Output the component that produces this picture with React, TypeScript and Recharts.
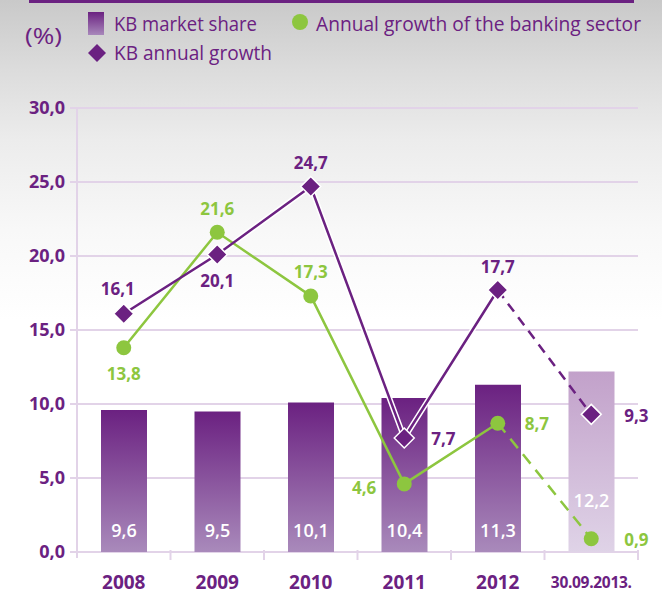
import React from 'react';
import { ComposedChart, Bar, Line, XAxis, YAxis, CartesianGrid, Cell, LabelList } from 'recharts';

// ---- data ----
const years = ['2008', '2009', '2010', '2011', '2012', '30.09.2013.'];
const kbMarketShare = [9.6, 9.5, 10.1, 10.4, 11.3, 12.2];
const kbAnnualGrowth = [16.1, 20.1, 24.7, 7.7, 17.7, 9.3];
const sectorGrowth = [13.8, 21.6, 17.3, 4.6, 8.7, 0.9];
const yTicks = [0, 5, 10, 15, 20, 25, 30];
const projectedIndex = 5; // last period is partial (dashed / lighter)

// label placements (style)
const kbLabelPlace = ['topleft', 'bottom', 'top', 'right', 'top', 'farright'];
const sectorLabelPlace = ['bottom', 'top', 'top', 'left', 'right', 'farright'];

const PURPLE = '#6b2181';
const GREEN = '#8dc63f';
const GRID = '#e2d3e8';
const FONT = '"Open Sans", "DejaVu Sans", sans-serif';

const W = 662;
const H = 594;
const M = { top: 108, right: 24, bottom: 0, left: 0 };
const Y_AXIS_W = 77;
const X_AXIS_H = 42;
const PLOT_BOTTOM = H - M.bottom - X_AXIS_H;
const HALF_BAND = (W - M.left - M.right - Y_AXIS_W) / years.length / 2;

const fmt = (v: number) => v.toFixed(1).replace('.', ',');

const data = years.map((y, i) => ({
  year: y,
  share: kbMarketShare[i],
  kbSolid: i < projectedIndex ? kbAnnualGrowth[i] : null,
  kbDash: i >= projectedIndex - 1 ? kbAnnualGrowth[i] : null,
  secSolid: i < projectedIndex ? sectorGrowth[i] : null,
  secDash: i >= projectedIndex - 1 ? sectorGrowth[i] : null,
}));

const placeOffset = (p: string) => {
  switch (p) {
    case 'top': return { dx: 0, dy: -24, anchor: 'middle' };
    case 'bottom': return { dx: 0, dy: 26, anchor: 'middle' };
    case 'topleft': return { dx: -6, dy: -25, anchor: 'middle' };
    case 'left': return { dx: -28, dy: 4, anchor: 'end' };
    case 'right': return { dx: 27, dy: 0, anchor: 'start' };
    case 'farright': return { dx: 33, dy: 1, anchor: 'start' };
    default: return { dx: 0, dy: -24, anchor: 'middle' };
  }
};

const makePointLabel = (values: number[], places: string[], color: string, onlyIdx: (i: number) => boolean) =>
  (props: any) => {
    const { x, y, index } = props;
    if (x == null || y == null || !onlyIdx(index)) return null;
    const o = placeOffset(places[index]);
    return (
      <text x={x + o.dx} y={y + o.dy} textAnchor={o.anchor as any} dominantBaseline="central"
        fill={color} fontFamily={FONT} fontWeight={700} fontSize={17}>
        {fmt(values[index])}
      </text>
    );
  };

const Diamond = ({ cx, cy, r = 10 }: any) => (
  <path d={`M${cx},${cy - r} L${cx + r},${cy} L${cx},${cy + r} L${cx - r},${cy} Z`}
    fill={PURPLE} stroke="#fff" strokeWidth={1.5} />
);

const makeDot = (shape: 'diamond' | 'circle', onlyIdx: (i: number) => boolean) => (props: any) => {
  const { cx, cy, index } = props;
  if (cx == null || cy == null || !onlyIdx(index)) return <g key={`d${index}`} />;
  if (shape === 'diamond') return <Diamond key={`d${index}`} cx={cx} cy={cy} />;
  return <circle key={`d${index}`} cx={cx} cy={cy} r={7.5} fill={GREEN} />;
};

const XTick = (props: any) => {
  const { x, payload, index } = props;
  const last = payload.value === years[projectedIndex];
  const base = PLOT_BOTTOM;
  return (
    <g>
      {index === 0 && (
        <line x1={x - HALF_BAND} x2={x - HALF_BAND} y1={base - 2} y2={base + 6} stroke={GRID} strokeWidth={2} />
      )}
      <line x1={x + HALF_BAND} x2={x + HALF_BAND} y1={base - 2} y2={base + 8} stroke={GRID} strokeWidth={2} />
      <text x={x} y={last ? base + 36 : base + 37} textAnchor="middle" fill={PURPLE}
        fontFamily={FONT} fontWeight={700} fontSize={last ? 15.5 : 19} letterSpacing={last ? -0.3 : 0}>
        {payload.value}
      </text>
    </g>
  );
};

const BarLabel = (props: any) => {
  const { x, y, width, height, index } = props;
  const bottom = y + height;
  const cy = index === projectedIndex ? bottom - 52 : bottom - 22;
  return (
    <text x={x + width / 2} y={cy} textAnchor="middle" dominantBaseline="central" fill="#fff"
      fontFamily={FONT} fontWeight={600} fontSize={18}>
      {fmt(kbMarketShare[index])}
    </text>
  );
};

const Legend = () => (
  <svg width={W} height={80} style={{ position: 'absolute', left: 0, top: 0, pointerEvents: 'none' }}>
    <defs>
      <linearGradient id="legBar" x1="0" y1="0" x2="0" y2="1">
        <stop offset="0%" stopColor={PURPLE} />
        <stop offset="100%" stopColor="#a888bb" />
      </linearGradient>
    </defs>
    <text x={25} y={44} fill={PURPLE} fontFamily={FONT} fontSize={22} textLength={37} lengthAdjust="spacingAndGlyphs">(%)</text>
    <rect x={88} y={12} width={16} height={23} fill="url(#legBar)" />
    <text x={114} y={31} fill={PURPLE} fontFamily={FONT} fontSize={20} textLength={143} lengthAdjust="spacingAndGlyphs">KB market share</text>
    <circle cx={300} cy={22} r={8} fill={GREEN} />
    <text x={316} y={31} fill={PURPLE} fontFamily={FONT} fontSize={20} textLength={325} lengthAdjust="spacingAndGlyphs">Annual growth of the banking sector</text>
    <path d="M97,44 L106,53 L97,62 L88,53 Z" fill={PURPLE} />
    <text x={114} y={60} fill={PURPLE} fontFamily={FONT} fontSize={20} textLength={158} lengthAdjust="spacingAndGlyphs">KB annual growth</text>
  </svg>
);

export default function App() {
  const notLast = (i: number) => i < projectedIndex;
  const onlyLast = (i: number) => i === projectedIndex;
  return (
    <div style={{
      position: 'absolute', left: 0, top: 0, width: W, height: H, overflow: 'hidden',
      background: 'linear-gradient(to bottom, #c9c9c9 0px, #dcdcdc 70px, #ececec 140px, #f8f8f8 230px, #ffffff 320px)',
    }}>
      <div style={{ position: 'absolute', left: 29, top: 0, width: 605, height: 3, background: PURPLE }} />
      <ComposedChart width={W} height={H} data={data} margin={M}>
        <defs>
          <linearGradient id="barMain" x1="0" y1="0" x2="0" y2="1">
            <stop offset="0%" stopColor={PURPLE} />
            <stop offset="100%" stopColor="#a98abb" />
          </linearGradient>
          <linearGradient id="barLight" x1="0" y1="0" x2="0" y2="1">
            <stop offset="0%" stopColor="#c2a1ca" />
            <stop offset="100%" stopColor="#dfd3e7" />
          </linearGradient>
        </defs>
        <CartesianGrid horizontal vertical={false} stroke={GRID} strokeWidth={2} />
        <XAxis dataKey="year" height={X_AXIS_H} axisLine={false} tickLine={false} tick={<XTick />} interval={0} />
        <YAxis domain={[0, 30]} ticks={yTicks} width={Y_AXIS_W} tickFormatter={fmt} interval={0}
          axisLine={{ stroke: GRID, strokeWidth: 2 }} tickLine={{ stroke: GRID, strokeWidth: 2 }} tickSize={7} tickMargin={5}
          tick={{ fill: PURPLE, fontFamily: FONT, fontWeight: 700, fontSize: 18 }} />
        <Bar dataKey="share" barSize={46} isAnimationActive={false}>
          {data.map((_, i) => (
            <Cell key={i} fill={i === projectedIndex ? 'url(#barLight)' : 'url(#barMain)'} />
          ))}
          <LabelList dataKey="share" content={BarLabel} />
        </Bar>
        <Line dataKey="kbSolid" stroke="#ffffff" strokeWidth={5.5} dot={false} activeDot={false} isAnimationActive={false} legendType="none" />
        <Line dataKey="secDash" stroke={GREEN} strokeWidth={2.5} strokeDasharray="12 8" dot={makeDot('circle', onlyLast)} activeDot={false} isAnimationActive={false}>
          <LabelList dataKey="secDash" content={makePointLabel(sectorGrowth, sectorLabelPlace, GREEN, onlyLast)} />
        </Line>
        <Line dataKey="secSolid" stroke={GREEN} strokeWidth={2.5} dot={makeDot('circle', notLast)} activeDot={false} isAnimationActive={false}>
          <LabelList dataKey="secSolid" content={makePointLabel(sectorGrowth, sectorLabelPlace, GREEN, notLast)} />
        </Line>
        <Line dataKey="kbDash" stroke={PURPLE} strokeWidth={2.5} strokeDasharray="10 7" dot={makeDot('diamond', onlyLast)} activeDot={false} isAnimationActive={false}>
          <LabelList dataKey="kbDash" content={makePointLabel(kbAnnualGrowth, kbLabelPlace, PURPLE, onlyLast)} />
        </Line>
        <Line dataKey="kbSolid" stroke={PURPLE} strokeWidth={2.5} dot={makeDot('diamond', notLast)} activeDot={false} isAnimationActive={false}>
          <LabelList dataKey="kbSolid" content={makePointLabel(kbAnnualGrowth, kbLabelPlace, PURPLE, notLast)} />
        </Line>
      </ComposedChart>
      <Legend />
    </div>
  );
}
